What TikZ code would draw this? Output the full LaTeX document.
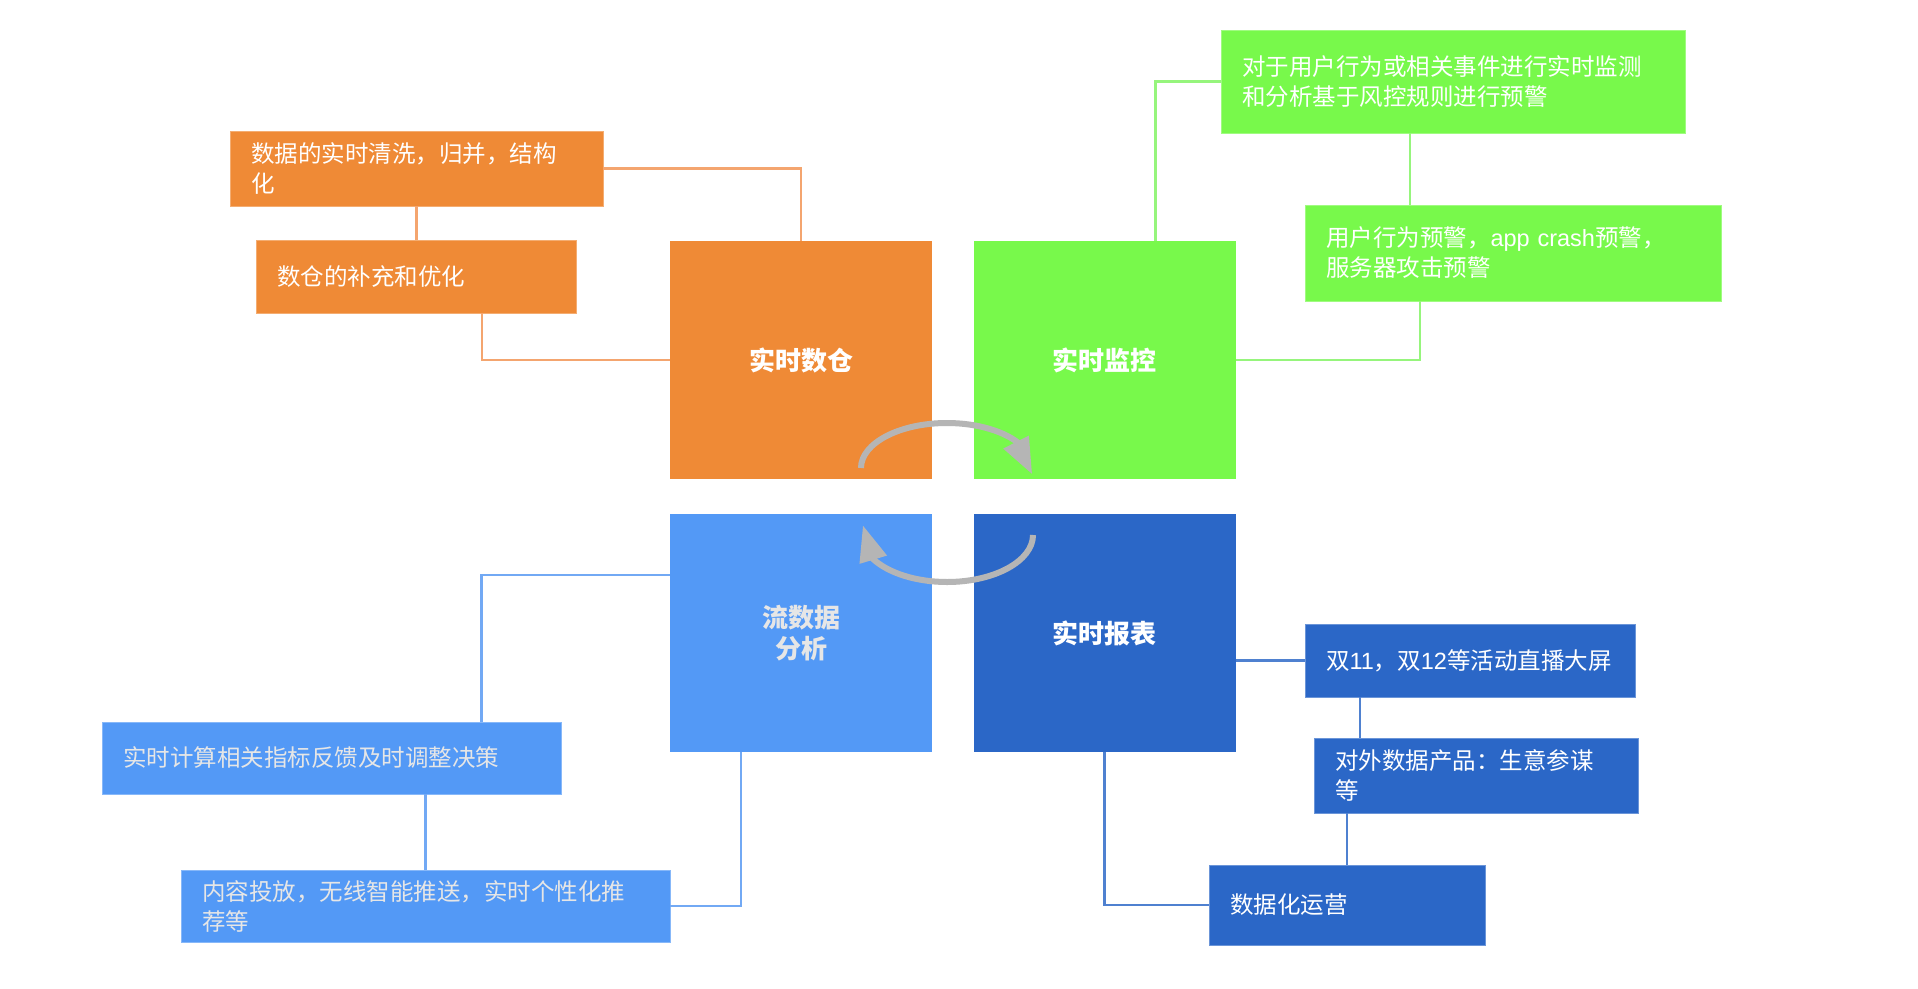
\documentclass[tikz,border=0pt]{standalone}
\usepackage{fontspec}
\setmainfont{Noto Sans CJK SC}
\newfontfamily\latinfont{Liberation Sans}
\usetikzlibrary{arrows.meta, bending, calc}

\definecolor{cOrange}{HTML}{EF8A36}
\definecolor{cGreen}{HTML}{78F94B}
\definecolor{cSky}{HTML}{5399F6}
\definecolor{cNavy}{HTML}{2B67C7}
\definecolor{lOrange}{HTML}{F4A56F}
\definecolor{lGreen}{HTML}{96F57C}
\definecolor{lSky}{HTML}{72A9F4}
\definecolor{lNavy}{HTML}{4F81D0}
\definecolor{cArc}{HTML}{B5B5B5}
\definecolor{cPale}{HTML}{E6E6E6}

\begin{document}
\begin{tikzpicture}[x=1pt, y=-1pt,
    hub/.style={rectangle, inner sep=0pt, outer sep=0pt,
                minimum width=262pt, minimum height=238pt,
                align=center, text=white,
                font=\fontsize{26pt}{31pt}\selectfont\bfseries},
    leaf/.style={rectangle, anchor=north west, inner xsep=21pt, inner ysep=0pt,
                 outer sep=0pt, align=left, text=white, line width=1pt,
                 font=\fontsize{23.5pt}{30pt}\selectfont},
    oleaf/.style={leaf, fill=cOrange, draw=cOrange!70!white},
    gleaf/.style={leaf, fill=cGreen, draw=cGreen!70!white},
    sleaf/.style={leaf, fill=cSky, draw=cSky!70!white, text=cPale},
    nleaf/.style={leaf, fill=cNavy, draw=cNavy!70!white},
    link/.style={line width=2.5pt},
    cyc/.style={line width=6pt, draw=cArc,
                -{Triangle[length=36pt, width=27pt, flex]}},
  ]
    \useasboundingbox[fill=white] (0,0) rectangle (1918,988);

    % Centre blocks
    \node[hub, fill=cOrange] (dw) at (801,360) {实时数仓};
    \node[hub, fill=cGreen] (mon) at (1104.5,360) {实时监控};
    \node[hub, fill=cSky, text=cPale] (ana) at (801,633) {流数据\\分析};
    \node[hub, fill=cNavy] (rep) at (1104.5,633) {实时报表};

    % Warehouse items
    \node[oleaf, text width=331pt, minimum height=75pt] (o1) at (230,131)
      {数据的实时清洗，归并，结构\\化};
    \node[oleaf, text width=278pt, minimum height=73pt] (o2) at (256,240)
      {数仓的补充和优化};

    % Monitoring items
    \node[gleaf, text width=422pt, minimum height=103pt] (g1) at (1221,30)
      {对于用户行为或相关事件进行实时监测\\和分析基于风控规则进行预警};
    \node[gleaf, text width=374pt, minimum height=96pt] (g2) at (1305,205)
      {用户行为预警，{\latinfont app crash}预警，\\服务器攻击预警};

    % Stream analysis items
    \node[sleaf, text width=417pt, minimum height=72pt] (b1) at (102,722)
      {实时计算相关指标反馈及时调整决策};
    \node[sleaf, text width=447pt, minimum height=72pt] (b2) at (181,870)
      {内容投放，无线智能推送，实时个性化推\\荐等};

    % Report items
    \node[nleaf, text width=288pt, minimum height=73pt] (d1) at (1305,624)
      {双{\latinfont 11}，双{\latinfont 12}等活动直播大屏};
    \node[nleaf, text width=282pt, minimum height=75pt] (d2) at (1314,738)
      {对外数据产品：生意参谋\\等};
    \node[nleaf, text width=234pt, minimum height=80pt] (d3) at (1209,865)
      {数据化运营};

    % Orange links
    \draw[link, lOrange] (o1.east) -| (dw.north);
    \draw[link, lOrange] (o1.south) -- (o1.south |- o2.north);
    \draw[link, lOrange] ([xshift=66pt]o2.south) |- (dw.west);

    % Green links
    \draw[link, lGreen] ([xshift=51pt]mon.north) |- (g1.west);
    \draw[link, lGreen] ([xshift=-43pt]g1.south) -- ([xshift=-43pt]g1.south |- g2.north);
    \draw[link, lGreen] ([xshift=-93pt]g2.south) |- (mon.east);

    % Blue links
    \draw[link, lSky] ([yshift=58pt]ana.west) -| ([xshift=150pt]b1.north);
    \draw[link, lSky] ([xshift=94pt]b1.south) -- ([xshift=94pt]b1.south |- b2.north);
    \draw[link, lSky] ([xshift=-60pt]ana.south) |- (b2.east);

    % Navy links
    \draw[link, lNavy] (d1.west -| rep.east) -- (d1.west);
    \draw[link, lNavy] ([xshift=-110pt]d1.south) -- ([xshift=-110pt]d1.south |- d2.north);
    \draw[link, lNavy] ([xshift=-129pt]d2.south) -- ([xshift=-129pt]d2.south |- d3.north);
    \draw[link, lNavy] (rep.south) |- (d3.west);

    % Cycle arrows
    \coordinate (c1) at (861,468);
    \coordinate (c2) at (1033,535);
    \draw[cyc] (c1) arc[start angle=180, end angle=-8, x radius=86pt, y radius=45pt];
    \draw[cyc] (c2) arc[start angle=0, end angle=-192, x radius=86pt, y radius=47pt];
  \end{tikzpicture}
\end{document}
